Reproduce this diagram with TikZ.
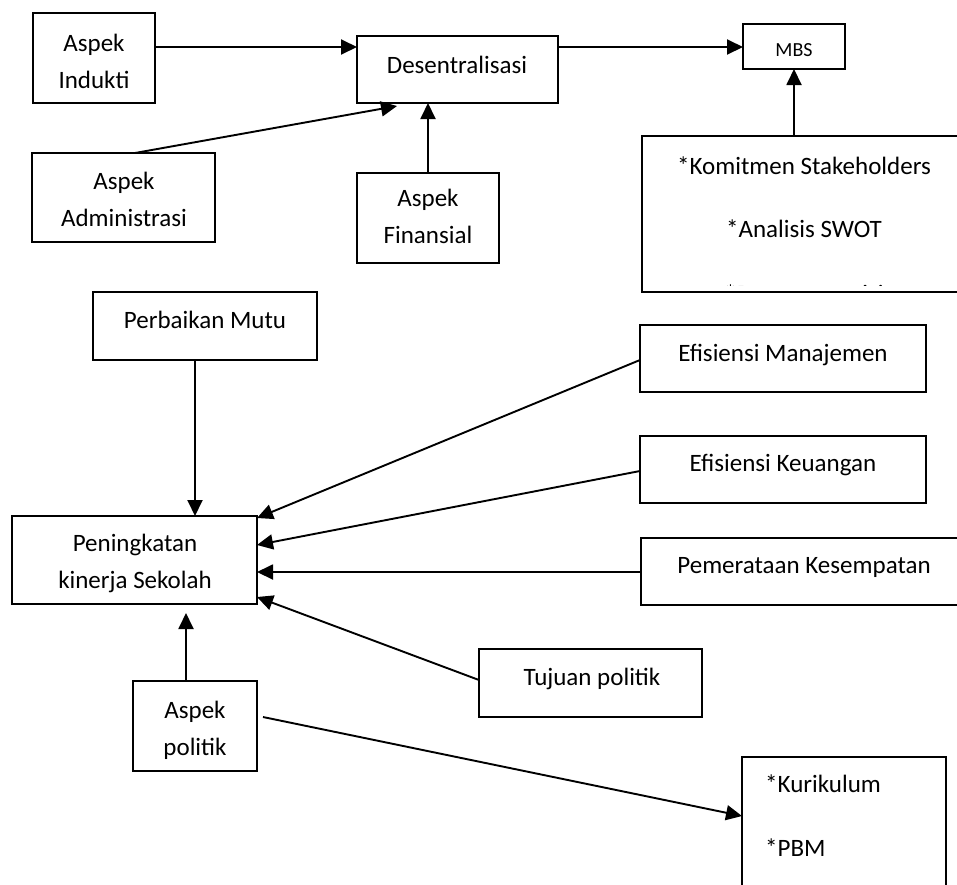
\documentclass[tikz,border=0pt]{standalone}
\usepackage{fontspec}
\setmainfont{Carlito}
\usetikzlibrary{arrows.meta,calc}
\tikzset{
  box/.style={draw, line width=1.9pt, anchor=north west, inner sep=0pt, outer sep=0pt},
  txt/.style={anchor=base, inner sep=0pt, align=center, font=\fontsize{25}{37}\selectfont},
  arr/.style={line width=1.9pt, -{Triangle[length=16pt,width=15pt]}}
}
\begin{document}
\begin{tikzpicture}[x=1pt,y=-1pt]
\useasboundingbox (0,0) rectangle (957,884);
\clip (0,0) rectangle (957,884);
\fill[white] (0,0) rectangle (957,884);
% boxes
\node[box, minimum width=122pt, minimum height=90pt] (ind) at (33,13) {};
\node[box, minimum width=201pt, minimum height=67pt] (des) at (357,36) {};
\node[box, minimum width=102pt, minimum height=45pt] (mbs) at (743,24) {};
\node[box, minimum width=330pt, minimum height=156pt] (kom) at (642,136) {};
\node[box, minimum width=183pt, minimum height=89pt] (adm) at (32,153) {};
\node[box, minimum width=142pt, minimum height=90pt] (fin) at (357,173) {};
\node[box, minimum width=224pt, minimum height=68pt] (pm) at (93,292) {};
\node[box, minimum width=245pt, minimum height=88pt] (pk) at (12,516) {};
\node[box, minimum width=286pt, minimum height=67pt] (em) at (640,325) {};
\node[box, minimum width=286pt, minimum height=67pt] (ek) at (640,436) {};
\node[box, minimum width=330pt, minimum height=67pt] (pe) at (641,538) {};
\node[box, minimum width=223pt, minimum height=68pt] (tp) at (479,649) {};
\node[box, minimum width=124pt, minimum height=90pt] (ap) at (133,681) {};
\node[box, minimum width=204pt, minimum height=200pt] (ku) at (742,757) {};
% texts (anchor base = last line baseline = visual centre + 8)
\node[txt] (indt) at (94,88) {Aspek\\Indukti};
\node[txt] (dest) at (457,73) {Desentralisasi};
\node[txt, font=\fontsize{20}{24}\selectfont] (mbst) at (794,56) {MBS};
\node[txt] (komt1) at (804,174) {*Komitmen Stakeholders};
\node[txt] (komt2) at (804,237) {*Analisis SWOT};
\begin{scope}
\clip (642,137) rectangle (957,285.5);
\node[txt] (komt3) at (804,302) {*Penetapan visi};
\end{scope}
\node[txt] (admt) at (124,226) {Aspek\\Administrasi};
\node[txt] (fint) at (428,243) {Aspek\\Finansial};
\node[txt] (pmt) at (205,328) {Perbaikan Mutu};
\node[txt] (pkt) at (135,588) {Peningkatan\\kinerja Sekolah};
\node[txt] (emt) at (783,361) {Efisiensi Manajemen};
\node[txt] (ekt) at (783,471) {Efisiensi Keuangan};
\node[txt] (pet) at (804,573) {Pemerataan Kesempatan};
\node[txt] (tpt) at (592,685) {Tujuan politik};
\node[txt] (apt) at (195,755) {Aspek\\politik};
\node[txt, anchor=base west] (kut1) at (765,792) {*Kurikulum};
\node[txt, anchor=base west] (kut2) at (765,856) {*PBM};
% connectors
\draw[arr] ($(ind.north east)+(0,34)$) -- ($(des.north west)+(0,11)$);
\draw[arr] ($(des.north east)+(0,11)$) -- ($(mbs.north west)+(0,23)$);
\draw[arr] (mbs.south |- kom.north) -- (mbs.south);
\draw[arr] ($(adm.north west)+(103,0)$) -- ($(des.south west)+(40,3)$);
\draw[arr] (fin.north) -- (fin.north |- des.south);
\draw[arr] ($(pm.south west)+(102,0)$) -- ($(pk.north west)+(183,0)$);
\draw[arr] ($(em.north west)+(0,35)$) -- ($(pk.north east)+(0,2)$);
\draw[arr] ($(ek.north west)+(0,35)$) -- ($(pk.north east)+(0,29)$);
\draw[arr] ($(pe.north west)+(0,34)$) -- ($(pk.north east)+(0,56)$);
\draw[arr] ($(tp.north west)+(0,31)$) -- ($(pk.north east)+(0,81)$);
\draw[arr] ($(ap.north west)+(53,0)$) -- ($(pk.south west)+(174,9)$);
\draw[arr] ($(ap.north east)+(6,36)$) -- ($(ku.north west)+(0,59)$);
\end{tikzpicture}
\end{document}
